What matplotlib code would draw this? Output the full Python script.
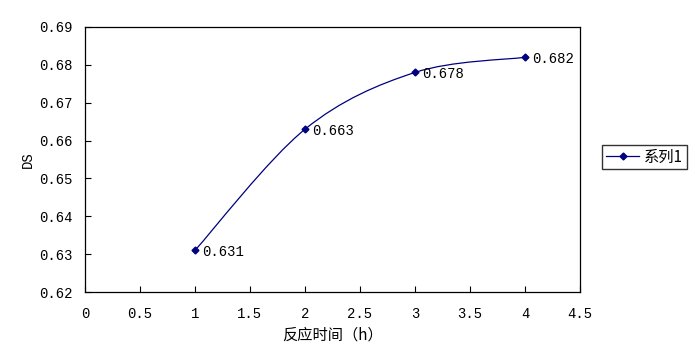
import numpy as np
import matplotlib
matplotlib.use("Agg")
import matplotlib.pyplot as plt
from matplotlib.path import Path
from matplotlib.patches import PathPatch
from matplotlib.lines import Line2D

plt.rcParams["font.family"] = ["Noto Sans CJK SC", "DejaVu Sans"]

hours = [1, 2, 3, 4]
ds = [0.631, 0.663, 0.678, 0.682]
labels = ["0.631", "0.663", "0.678", "0.682"]
series_name = "系列1"
navy = "#000080"
mono = ["Liberation Mono", "Noto Sans CJK SC"]

fig = plt.figure(figsize=(6.95, 3.64), dpi=100)
ax = fig.add_axes([85/695, 1 - 292/364, (580-85)/695, (292-27)/364])

# Excel-style smoothed line (cardinal spline through the points)
x = np.array(hours, float); y = np.array(ds, float)
verts = [(x[0], y[0])]; codes = [Path.MOVETO]
for i in range(len(x) - 1):
    p0 = i - 1 if i > 0 else i
    p3 = i + 2 if i + 2 < len(x) else i + 1
    c1 = (x[i] + (x[i+1] - x[p0]) / 6, y[i] + (y[i+1] - y[p0]) / 6)
    c2 = (x[i+1] - (x[p3] - x[i]) / 6, y[i+1] - (y[p3] - y[i]) / 6)
    verts += [c1, c2, (x[i+1], y[i+1])]
    codes += [Path.CURVE4] * 3
ax.add_patch(PathPatch(Path(verts, codes), fill=False, edgecolor=navy, lw=0.9))
ax.plot(hours, ds, ls="none", marker="D", ms=3.5, color=navy)
for xi, yi, t in zip(hours, ds, labels):
    ax.annotate(t, (xi, yi), xytext=(5, -1), textcoords="offset points",
                va="center", ha="left", fontsize=10, family=mono)

ax.set_xlim(0, 4.5)
ax.set_ylim(0.62, 0.69)
ax.set_xticks(np.arange(0, 4.51, 0.5))
ax.set_xticklabels(["0", "0.5", "1", "1.5", "2", "2.5", "3", "3.5", "4", "4.5"])
ax.set_yticks(np.arange(0.62, 0.6901, 0.01))
ax.set_yticklabels(["%.2f" % v for v in np.arange(0.62, 0.6901, 0.01)])
for lab in ax.get_xticklabels() + ax.get_yticklabels():
    lab.set_family(mono)
ax.tick_params(direction="in", length=4, width=0.8, labelsize=10, color="#000000")
ax.tick_params(axis="x", pad=11)
ax.tick_params(axis="y", pad=9)
for s in ax.spines.values():
    s.set_linewidth(0.9)
ax.set_xlabel("反应时间（h）", fontsize=11, labelpad=4)
ax.set_ylabel("DS", fontsize=10, family=mono, labelpad=3)

h = [Line2D([], [], color=navy, marker="D", ms=3.5, lw=0.9)]
fig.legend(h, [series_name], loc="center left", bbox_to_anchor=(602/695, 1 - 157/364),
           frameon=True, fancybox=False, edgecolor="#000000", fontsize=11,
           handlelength=2.2, borderpad=0.25, handletextpad=0.3, borderaxespad=0)

fig.savefig("out.png", dpi=100)
